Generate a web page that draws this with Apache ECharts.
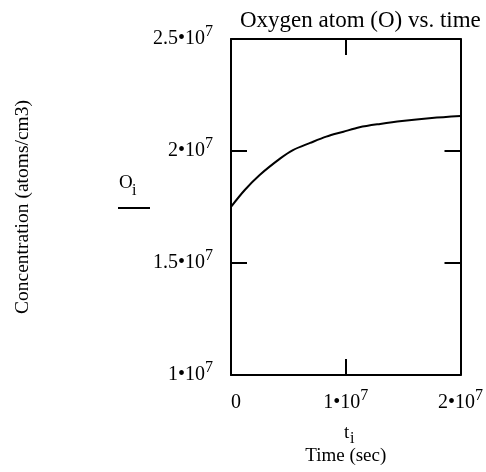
<!DOCTYPE html>
<html>
<head>
<meta charset="utf-8">
<script src="https://cdn.jsdelivr.net/npm/echarts@6/dist/echarts.min.js"></script>
<style>
  html, body { margin: 0; padding: 0; background: #fff; }
  #chart { width: 486px; height: 472px; }
</style>
</head>
<body>
<div id="chart"></div>
<script>
// time samples (sec) and O concentration (atoms/cm3)
var times = [0, 0.12e7, 0.25e7, 0.43e7, 0.54e7, 0.69e7, 0.83e7, 0.98e7, 1.12e7, 1.30e7, 1.49e7, 1.75e7, 2.0e7]
var oxygen = [1.751e7, 1.826e7, 1.893e7, 1.967e7, 2.004e7, 2.036e7, 2.064e7, 2.086e7, 2.106e7, 2.121e7, 2.134e7, 2.147e7, 2.156e7]

var serif = "'Liberation Serif', 'Times New Roman', serif"

function sciLabel(v) {
  if (v === 0) return '{b|0}'
  var m = +(v / 1e7).toFixed(2)
  return '{b|' + m + '\u202210}{s|7}'
}

var labelRich = {
  b: { fontFamily: serif, fontSize: 20, color: '#000', lineHeight: 30 },
  s: { fontFamily: serif, fontSize: 16, color: '#000', lineHeight: 16, verticalAlign: 'top' }
}

var chart = echarts.init(document.getElementById('chart'))

var axisLine = { show: true, onZero: false, lineStyle: { color: '#000', width: 2 } }
var axisTick = { show: true, inside: true, length: 16, lineStyle: { color: '#000', width: 2 } }

chart.setOption({
  animation: false,
  backgroundColor: '#fff',
  title: {
    text: 'Oxygen atom (O) vs. time',
    left: 235,
    top: 4,
    textStyle: { fontFamily: serif, fontSize: 23, fontWeight: 'normal', color: '#000' }
  },
  grid: { left: 231, right: 25, top: 39, bottom: 97 },
  xAxis: [
    {
      type: 'value',
      min: 0,
      max: 2e7,
      interval: 1e7,
      axisLine: axisLine,
      axisTick: axisTick,
      splitLine: { show: false },
      axisLabel: {
        margin: 13,
        formatter: sciLabel,
        rich: labelRich,
        alignMinLabel: 'left'
      },
      name: 'Time (sec)',
      nameLocation: 'middle',
      nameGap: 72,
      nameTextStyle: { fontFamily: serif, fontSize: 19, color: '#000' }
    },
    {
      type: 'value',
      position: 'top',
      min: 0,
      max: 2e7,
      interval: 1e7,
      axisLine: axisLine,
      axisTick: axisTick,
      splitLine: { show: false },
      axisLabel: { show: false }
    }
  ],
  yAxis: [
    {
      type: 'value',
      min: 1e7,
      max: 2.5e7,
      interval: 5e6,
      axisLine: axisLine,
      axisTick: axisTick,
      splitLine: { show: false },
      axisLabel: {
        margin: 18,
        formatter: sciLabel,
        rich: labelRich
      },
      name: 'Concentration (atoms/cm3)',
      nameLocation: 'middle',
      nameRotate: 90,
      nameGap: 198,
      nameTextStyle: { fontFamily: serif, fontSize: 19.5, color: '#000' }
    },
    {
      type: 'value',
      position: 'right',
      min: 1e7,
      max: 2.5e7,
      interval: 5e6,
      axisLine: axisLine,
      axisTick: axisTick,
      splitLine: { show: false },
      axisLabel: { show: false }
    }
  ],
  graphic: [
    { type: 'text', left: 119, top: 174, style: { text: 'O', font: '19px ' + serif, fill: '#000' } },
    { type: 'text', left: 132, top: 183, style: { text: 'i', font: '16px ' + serif, fill: '#000' } },
    { type: 'line', shape: { x1: 118, y1: 208, x2: 150, y2: 208 }, style: { stroke: '#000', lineWidth: 2 } },
    { type: 'text', left: 344, top: 424, style: { text: 't', font: '19px ' + serif, fill: '#000' } },
    { type: 'text', left: 350, top: 431, style: { text: 'i', font: '16px ' + serif, fill: '#000' } }
  ],
  series: [
    {
      type: 'line',
      smooth: 0.3,
      symbol: 'none',
      lineStyle: { color: '#000', width: 2 },
      data: times.map(function (t, i) { return [t, oxygen[i]] })
    }
  ]
})
</script>
</body>
</html>
